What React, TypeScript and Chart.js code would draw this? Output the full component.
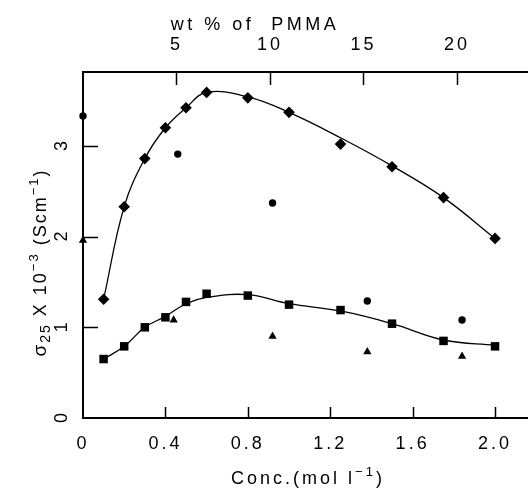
import React, { useEffect, useRef } from 'react';
import { Chart, registerables } from 'chart.js';

Chart.register(...registerables);

// Concentration (mol l^-1) and conductivity sigma25 x 10^-3 (S cm^-1)
const concDiamond = [0.1, 0.2, 0.3, 0.4, 0.5, 0.6, 0.8, 1.0, 1.25, 1.5, 1.75, 2.0];
const sigmaDiamond = [1.31, 2.33, 2.86, 3.2, 3.42, 3.59, 3.53, 3.37, 3.02, 2.77, 2.43, 1.98];
const fitDiamond = [1.31, 2.33, 2.86, 3.2, 3.42, 3.59, 3.54, 3.37, 3.09, 2.78, 2.43, 1.98];

const concSquare = [0.1, 0.2, 0.3, 0.4, 0.5, 0.6, 0.8, 1.0, 1.25, 1.5, 1.75, 2.0];
const sigmaSquare = [0.65, 0.79, 1.0, 1.11, 1.28, 1.37, 1.35, 1.25, 1.19, 1.04, 0.85, 0.79];
const fitSquare = [0.65, 0.79, 1.0, 1.12, 1.26, 1.33, 1.36, 1.26, 1.18, 1.04, 0.86, 0.8];

const concCircle = [0, 0.46, 0.92, 1.38, 1.84];
const sigmaCircle = [3.33, 2.91, 2.37, 1.29, 1.08];

const concTriangle = [0, 0.44, 0.92, 1.38, 1.84];
const sigmaTriangle = [1.96, 1.08, 0.9, 0.73, 0.68];

const xTicks = [0, 0.4, 0.8, 1.2, 1.6, 2.0];
const yTicks = [0, 1, 2, 3];
const wtTicks = [5, 10, 15, 20];

const FONT = '"Liberation Sans", Arial, sans-serif';
const W = 528;
const H = 491;

type Part = { t: string; size: number; dy?: number };

function drawRich(ctx: CanvasRenderingContext2D, parts: Part[], cx: number, by: number, spacing: number) {
  ctx.letterSpacing = spacing + 'px';
  let total = 0;
  const widths = parts.map((p) => {
    ctx.font = `${p.size}px ${FONT}`;
    const w = ctx.measureText(p.t).width;
    total += w;
    return w;
  });
  let x = cx - total / 2;
  ctx.textAlign = 'left';
  ctx.textBaseline = 'alphabetic';
  parts.forEach((p, i) => {
    ctx.font = `${p.size}px ${FONT}`;
    ctx.fillText(p.t, x, by + (p.dy || 0));
    x += widths[i];
  });
}

const deco = {
  id: 'deco',
  beforeDraw(chart: any) {
    chart.ctx.letterSpacing = '3px';
  },
  afterDraw(chart: any) {
    const { ctx, scales, chartArea: area } = chart;
    const x = scales.x;
    const y = scales.y;
    const x2 = scales.x2;
    ctx.save();
    ctx.letterSpacing = '0px';
    ctx.strokeStyle = '#000';
    ctx.lineWidth = 1.5;
    ctx.beginPath();
    xTicks.filter((v) => v > 0).forEach((v) => {
      const px = Math.round(x.getPixelForValue(v)) + 0.5;
      ctx.moveTo(px, area.bottom);
      ctx.lineTo(px, area.bottom - 11);
    });
    wtTicks.forEach((v) => {
      const px = Math.round(x2.getPixelForValue(v)) + 0.5;
      ctx.moveTo(px, area.top);
      ctx.lineTo(px, area.top + 13);
    });
    yTicks.filter((v) => v > 0).forEach((v) => {
      const py = Math.round(y.getPixelForValue(v)) + 0.5;
      ctx.moveTo(area.left, py);
      ctx.lineTo(area.left + 15, py);
    });
    ctx.stroke();

    ctx.fillStyle = '#000';
    ctx.font = `18px ${FONT}`;
    ctx.textAlign = 'center';
    ctx.textBaseline = 'middle';
    yTicks.forEach((v) => {
      const py = y.getPixelForValue(v);
      ctx.save();
      ctx.translate(62, py);
      ctx.rotate(-Math.PI / 2);
      ctx.fillText(String(v), 0, 0);
      ctx.restore();
    });

    // top title
    drawRich(ctx, [{ t: 'wt % of  PMMA', size: 18 }], 255, 30, 3.5);
    // bottom title
    drawRich(
      ctx,
      [
        { t: 'Conc.(mol l', size: 18 },
        { t: '\u22121', size: 13, dy: -8 },
        { t: ')', size: 18 },
      ],
      308,
      484,
      3
    );
    // y title
    ctx.save();
    ctx.translate(46, 262.5);
    ctx.rotate(-Math.PI / 2);
    drawRich(
      ctx,
      [
        { t: '\u03C3', size: 19 },
        { t: '25', size: 14, dy: 4 },
        { t: ' X 10', size: 18 },
        { t: '\u22123', size: 13, dy: -8 },
        { t: ' (Scm', size: 18 },
        { t: '\u22121', size: 13, dy: -8 },
        { t: ')', size: 18 },
      ],
      0,
      0,
      2
    );
    ctx.restore();
    ctx.restore();
  },
};

function pts(xs: number[], ys: number[]) {
  return xs.map((v, i) => ({ x: v, y: ys[i] }));
}

function noPad(s: any) {
  s.paddingLeft = 0;
  s.paddingRight = 0;
  s.paddingTop = 0;
  s.paddingBottom = 0;
}

export default function App() {
  const ref = useRef<HTMLCanvasElement | null>(null);
  useEffect(() => {
    if (!ref.current) return;
    const marker = {
      showLine: false,
      backgroundColor: '#000',
      borderColor: '#000',
      pointBackgroundColor: '#000',
      pointBorderColor: '#000',
      pointBorderWidth: 0,
      clip: false as any,
    };
    const fitLine = {
      showLine: true,
      borderColor: '#000',
      borderWidth: 1.3,
      pointRadius: 0,
      tension: 0.4,
      fill: false,
      clip: false as any,
    };
    const chart = new Chart(ref.current, {
      type: 'scatter',
      data: {
        datasets: [
          { label: 'fitD', data: pts(concDiamond, fitDiamond), ...fitLine },
          { label: 'fitS', data: pts(concSquare, fitSquare), ...fitLine },
          { label: 'diamond', data: pts(concDiamond, sigmaDiamond), pointStyle: 'rectRot', pointRadius: 5.8, ...marker },
          { label: 'square', data: pts(concSquare, sigmaSquare), pointStyle: 'rect', pointRadius: 6, ...marker },
          { label: 'circle', data: pts(concCircle, sigmaCircle), pointStyle: 'circle', pointRadius: 3.7, ...marker },
          { label: 'triangle', data: pts(concTriangle, sigmaTriangle), pointStyle: 'triangle', pointRadius: 4.8, ...marker },
        ],
      },
      options: {
        animation: false,
        responsive: false,
        events: [],
        layout: { autoPadding: false, padding: 0 },
        plugins: { legend: { display: false }, tooltip: { enabled: false }, title: { display: false } },
        scales: {
          x: {
            type: 'linear',
            position: 'bottom',
            min: 0,
            max: 2.16,
            grid: { display: false },
            border: { display: true, color: '#000', width: 2 },
            ticks: {
              stepSize: 0.4,
              includeBounds: false,
              color: '#000',
              padding: 7,
              maxRotation: 0,
              font: { family: FONT, size: 18, lineHeight: 1.2 },
              callback: (v: any) => {
                const n = Number(v);
                const hit = xTicks.find((t) => Math.abs(t - n) < 1e-6);
                if (hit === undefined) return null;
                return hit === 0 ? '0' : hit.toFixed(1);
              },
            },
            afterFit: (s: any) => {
              s.height = 73;
              noPad(s);
            },
          },
          x2: {
            type: 'linear',
            position: 'top',
            axis: 'x',
            min: 0,
            max: 23.8,
            grid: { display: false },
            border: { display: true, color: '#000', width: 2 },
            ticks: {
              stepSize: 5,
              includeBounds: false,
              color: '#000',
              padding: 8,
              maxRotation: 0,
              font: { family: FONT, size: 18, lineHeight: 1.2 },
              callback: (v: any) => {
                const n = Number(v);
                const hit = wtTicks.find((t) => Math.abs(t - n) < 1e-6);
                return hit === undefined ? null : String(hit);
              },
            },
            afterFit: (s: any) => {
              s.height = 72;
              noPad(s);
            },
          },
          y: {
            type: 'linear',
            position: 'left',
            min: 0,
            max: 3.815,
            grid: { display: false },
            border: { display: true, color: '#000', width: 2 },
            ticks: { display: false },
            afterFit: (s: any) => {
              s.width = 83;
              noPad(s);
            },
          },
        },
      } as any,
      plugins: [deco],
    });
    return () => chart.destroy();
  }, []);
  return (
    <div style={{ position: 'fixed', left: 0, top: 0, width: W, height: H, background: '#fff' }}>
      <canvas ref={ref} width={W} height={H} style={{ display: 'block', width: W, height: H }} />
    </div>
  );
}
